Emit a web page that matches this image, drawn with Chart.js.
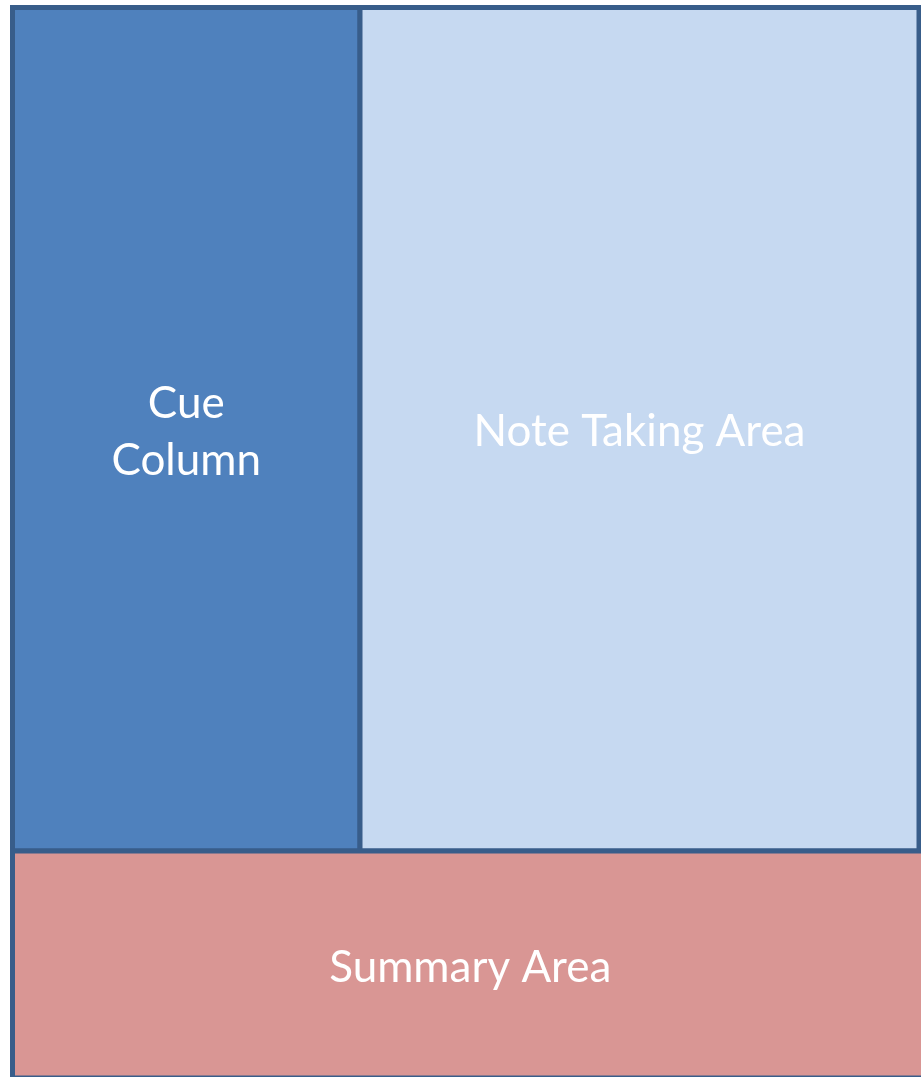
<!DOCTYPE html>
<html>
<head>
<meta charset="utf-8">
<script src="https://cdn.jsdelivr.net/npm/chart.js@4/dist/chart.umd.min.js"></script>
<style>
  html, body { margin: 0; padding: 0; background: #ffffff; }
  #wrap { width: 921px; height: 1077px; }
</style>
</head>
<body>
<div id="wrap"><canvas id="c" width="921" height="1077"></canvas></div>
<script>
// ---- Data: Cornell note-taking page layout (page units) ----
const regions   = ['Cue Column', 'Note Taking Area', 'Summary Area'];
const labelLines = [['Cue', 'Column'], ['Note Taking Area'], ['Summary Area']];
const xStart    = [12.5, 360, 12.5];
const xEnd      = [360, 919, 928];
const yStart    = [7.5, 7.5, 851];
const yEnd      = [851, 851, 1078];
const pageWidth  = 921;
const pageHeight = 1077;

// ---- Style ----
const fillColors = ['#4F81BD', '#C6D9F1', '#D99694'];
const borderColor = '#385D8A';
const borderWidth = 5;
const fontFamily = 'Lato, "Open Sans", sans-serif';
const fontSize = 44;
const lineHeight = 57;
const textShift = 3;

const regionPlugin = {
  id: 'regions',
  beforeDatasetsDraw(chart) {
    const { ctx, scales: { x, y } } = chart;
    ctx.save();
    regions.forEach((name, i) => {
      const px0 = x.getPixelForValue(xStart[i]);
      const px1 = x.getPixelForValue(xEnd[i]);
      const py0 = y.getPixelForValue(yStart[i]);
      const py1 = y.getPixelForValue(yEnd[i]);
      ctx.fillStyle = fillColors[i];
      ctx.fillRect(px0, py0, px1 - px0, py1 - py0);
      ctx.lineWidth = borderWidth;
      ctx.strokeStyle = borderColor;
      ctx.strokeRect(px0, py0, px1 - px0, py1 - py0);
    });
    regions.forEach((name, i) => {
      const cx = (x.getPixelForValue(xStart[i]) + x.getPixelForValue(xEnd[i])) / 2;
      const cy = (y.getPixelForValue(yStart[i]) + y.getPixelForValue(yEnd[i])) / 2 + textShift;
      const lines = labelLines[i];
      ctx.fillStyle = '#ffffff';
      ctx.font = fontSize + 'px ' + fontFamily;
      ctx.textAlign = 'center';
      ctx.textBaseline = 'middle';
      const top = cy - (lines.length - 1) * lineHeight / 2;
      lines.forEach((t, k) => ctx.fillText(t, cx, top + k * lineHeight));
    });
    ctx.restore();
  }
};

new Chart(document.getElementById('c'), {
  type: 'scatter',
  data: {
    datasets: [{
      label: 'Regions',
      data: regions.map((r, i) => ({ x: (xStart[i] + xEnd[i]) / 2, y: (yStart[i] + yEnd[i]) / 2 })),
      pointRadius: 0,
      pointHoverRadius: 0
    }]
  },
  options: {
    responsive: false,
    animation: false,
    events: [],
    layout: { padding: 0 },
    plugins: { legend: { display: false }, tooltip: { enabled: false } },
    scales: {
      x: { type: 'linear', min: 0, max: pageWidth, display: false },
      y: { type: 'linear', min: 0, max: pageHeight, reverse: true, display: false }
    }
  },
  plugins: [regionPlugin]
});
</script>
</body>
</html>
